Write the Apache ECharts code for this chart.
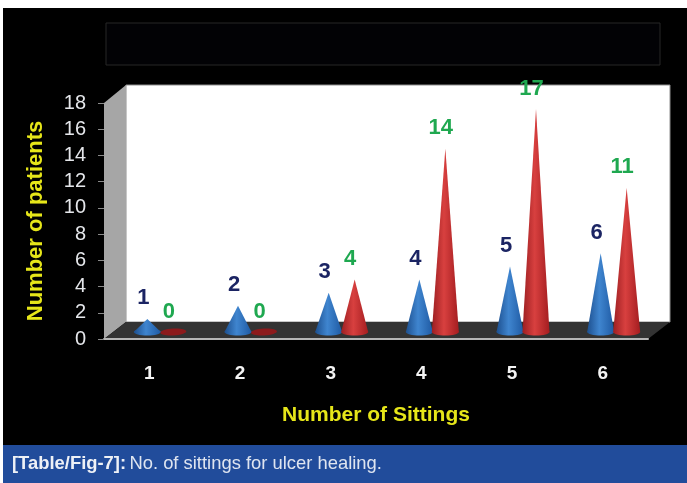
<!DOCTYPE html>
<html>
<head>
<meta charset="utf-8">
<style>
html, body { margin: 0; padding: 0; background: #fff; }
#chart { width: 687px; height: 483px; }
</style>
<script src="https://cdn.jsdelivr.net/npm/echarts@6/dist/echarts.min.js"></script>
</head>
<body>
<div id="chart"></div>
<script>
var categories = ['1', '2', '3', '4', '5', '6'];
var blueValues = [1, 2, 3, 4, 5, 6];
var redValues = [0, 0, 4, 14, 17, 11];
var yTicks = { min: 0, max: 18, interval: 2 };

var myChart = echarts.init(document.getElementById('chart'));
var font = '"Liberation Sans", Arial, sans-serif';

function hGrad(a, b, c) {
    return new echarts.graphic.LinearGradient(0, 0, 1, 0, [
        { offset: 0, color: a }, { offset: 0.45, color: b }, { offset: 1, color: c }
    ]);
}

// cone standing on the floor, shifted back from the front axis edge
function coneSeries(name, values, shiftX, colors, flatColor, labelColor, labelShiftX) {
    return {
        name: name,
        type: 'custom',
        coordinateSystem: 'cartesian2d',
        data: values.map(function (v, i) { return [i, v]; }),
        encode: { x: 0, y: 1 },
        renderItem: function (params, api) {
            var base = api.coord([api.value(0), 0]);
            var tip = api.coord([api.value(0), api.value(1)]);
            var x = base[0] + shiftX;
            var y0 = base[1] - 7;
            var y1 = tip[1] - 7;
            var children = [];
            if (api.value(1) === 0) {
                children.push({
                    type: 'ellipse',
                    shape: { cx: x, cy: y0, rx: 13, ry: 3.5 },
                    rotation: 0.06,
                    originX: x,
                    originY: y0,
                    style: { fill: flatColor }
                });
            } else {
                var fill = hGrad(colors[0], colors[1], colors[2]);
                children.push({
                    type: 'ellipse',
                    shape: { cx: x, cy: y0, rx: 13.5, ry: 3.5 },
                    style: { fill: fill }
                });
                children.push({
                    type: 'polygon',
                    shape: { points: [[x, y1], [x - 13.5, y0], [x + 13.5, y0]] },
                    style: { fill: fill }
                });
            }
            children.push({
                type: 'text',
                style: {
                    x: x + labelShiftX,
                    y: y1 - 20.5,
                    text: String(api.value(1)),
                    fill: labelColor,
                    font: 'bold 22px ' + font,
                    align: 'center',
                    verticalAlign: 'middle'
                }
            });
            return { type: 'group', children: children };
        }
    };
}

var option = {
    animation: false,
    backgroundColor: '#ffffff',
    grid: { left: 104, top: 103, width: 544, height: 236 },
    xAxis: {
        type: 'category',
        data: categories,
        name: 'Number of Sittings',
        nameLocation: 'middle',
        nameGap: 66,
        nameTextStyle: { color: '#e6e619', fontFamily: font, fontWeight: 'bold', fontSize: 21 },
        axisLine: { show: true, lineStyle: { color: '#b5b5b5', width: 2 } },
        axisTick: { show: false },
        axisLabel: { color: '#f4f4f4', fontFamily: font, fontWeight: 'bold', fontSize: 19, margin: 25 }
    },
    yAxis: {
        type: 'value',
        min: yTicks.min,
        max: yTicks.max,
        interval: yTicks.interval,
        name: 'Number of patients',
        nameLocation: 'middle',
        nameGap: 57,
        nameTextStyle: { color: '#e6e619', fontFamily: font, fontWeight: 'bold', fontSize: 22 },
        axisLine: { show: false },
        axisTick: { show: true, length: 6, lineStyle: { color: '#8a8a8a', width: 1 } },
        axisLabel: { color: '#e4e6ea', fontFamily: font, fontSize: 20, margin: 18 },
        splitLine: { show: false }
    },
    graphic: [
        { type: 'rect', z: -10, shape: { x: 3, y: 8, width: 684, height: 437 }, style: { fill: '#000000' } },
        { type: 'rect', z: -9, shape: { x: 106, y: 23, width: 554, height: 42 }, style: { fill: '#020205', stroke: '#262626', lineWidth: 1 } },
        { type: 'polygon', z: -8, shape: { points: [[126, 85], [670, 85], [670, 322], [126, 322]] }, style: { fill: '#ffffff', stroke: '#8f8f8f', lineWidth: 1 } },
        { type: 'polygon', z: -8, shape: { points: [[104, 103], [126, 85], [126, 322], [104, 339]] }, style: { fill: '#a6a6a6' } },
        { type: 'polygon', z: -8, shape: { points: [[126, 322], [670, 322], [648, 339], [104, 339]] }, style: { fill: '#333333' } },
        { type: 'rect', z: -7, shape: { x: 3, y: 445, width: 684, height: 38 }, style: { fill: '#214c9b' } },
        {
            type: 'text',
            z: 5,
            x: 12,
            y: 464,
            style: {
                text: '{b|[Table/Fig-7]:} {r|No. of sittings for ulcer healing.}',
                verticalAlign: 'middle',
                rich: {
                    b: { fill: '#eef1f6', font: 'bold 18.4px ' + font },
                    r: { fill: '#dfe5f0', font: '18.4px ' + font }
                }
            }
        }
    ],
    series: [
        coneSeries('Blue', blueValues, -2, ['#1d4f8e', '#3f85cf', '#1f5aa3'], '#2a64ad', '#1b2463', -4),
        coneSeries('Red', redValues, 24, ['#9c1f22', '#d8403f', '#a41d20'], '#8c1a1c', '#1fa850', -4.5)
    ]
};

myChart.setOption(option);
</script>
</body>
</html>
